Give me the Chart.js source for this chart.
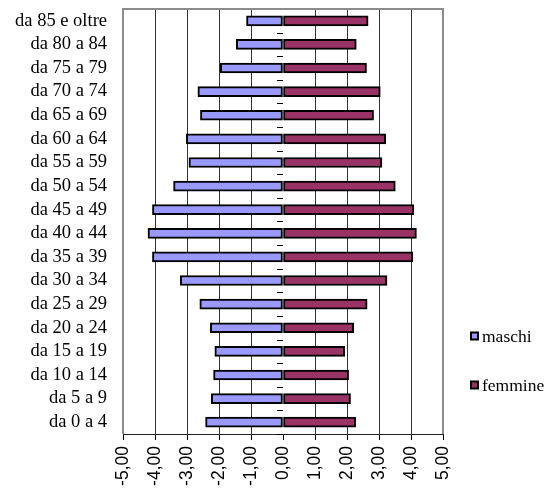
<!DOCTYPE html>
<html>
<head>
<meta charset="utf-8">
<script src="https://cdn.jsdelivr.net/npm/chart.js@4.4.0/dist/chart.umd.min.js"></script>
<style>
  html, body { margin: 0; padding: 0; background: #fff; }
  canvas { display: block; }
</style>
</head>
<body>
<canvas id="pyramid" width="554" height="493"></canvas>
<script>
// Age classes, youngest first (drawn bottom to top)
const ageGroups = [
  'da 0 a 4', 'da 5 a 9', 'da 10 a 14', 'da 15 a 19', 'da 20 a 24',
  'da 25 a 29', 'da 30 a 34', 'da 35 a 39', 'da 40 a 44', 'da 45 a 49',
  'da 50 a 54', 'da 55 a 59', 'da 60 a 64', 'da 65 a 69', 'da 70 a 74',
  'da 75 a 79', 'da 80 a 84', 'da 85 e oltre'
];

// Share of population (%), males drawn to the left as negative values
const maschi = [
  -2.42, -2.24, -2.17, -2.13, -2.27,
  -2.60, -3.21, -4.08, -4.22, -4.08,
  -3.42, -2.94, -3.02, -2.58, -2.66,
  -1.96, -1.46, -1.14
];
const femmine = [
  2.27, 2.11, 2.05, 1.93, 2.21,
  2.63, 3.25, 4.06, 4.17, 4.09,
  3.51, 3.09, 3.21, 2.83, 3.04,
  2.61, 2.29, 2.66
];

// Value axis ticks
const xTickValues = [-5, -4, -3, -2, -1, 0, 1, 2, 3, 4, 5];
const formatTick = v => Number(v).toFixed(2).replace('.', ',');

const SERIF = "'Liberation Serif', 'Times New Roman', serif";
const SANS = "'Liberation Sans', Arial, sans-serif";

// Gray frame on the left, top and right of the plot area
const plotFrame = {
  id: 'plotFrame',
  afterDraw(chart) {
    const ctx = chart.ctx;
    const a = chart.chartArea;
    const l = Math.round(a.left), t = Math.round(a.top), r = Math.round(a.right), b = Math.round(a.bottom);
    ctx.save();
    ctx.fillStyle = '#8c8c8c';
    ctx.fillRect(l - 1, t - 1, 2, b - t + 1);   // left side
    ctx.fillRect(l - 1, t - 1, r - l + 2, 2);   // top side
    ctx.fillRect(r - 1, t - 1, 2, b - t + 1);   // right side
    ctx.restore();
  }
};

// Short category tick marks along the zero line, between the age classes
const zeroTicks = {
  id: 'zeroTicks',
  afterDatasetsDraw(chart) {
    const ctx = chart.ctx;
    const xs = chart.scales.x, ys = chart.scales.y;
    const x0 = Math.round(xs.getPixelForValue(0));
    const n = ys.getLabels().length;
    const p0 = ys.getPixelForValue(0), p1 = ys.getPixelForValue(1);
    const step = p1 - p0;
    ctx.save();
    ctx.strokeStyle = '#000';
    ctx.lineWidth = 1;
    ctx.beginPath();
    for (let k = 0; k <= n; k++) {
      const y = Math.round(p0 - step / 2 + k * step) + 0.5;
      ctx.moveTo(x0 - 6, y);
      ctx.lineTo(x0, y);
    }
    ctx.stroke();
    ctx.restore();
  }
};

// Legend to the right of the plot, built from the datasets
const sideLegend = {
  id: 'sideLegend',
  afterDraw(chart, args, opts) {
    const ctx = chart.ctx;
    const a = chart.chartArea;
    ctx.save();
    ctx.font = opts.font;
    ctx.textBaseline = 'middle';
    ctx.textAlign = 'left';
    chart.data.datasets.forEach((ds, i) => {
      const cy = opts.top + i * opts.gap;
      const bx = a.right + opts.offset;
      const s = opts.box;
      ctx.fillStyle = '#000';
      ctx.fillRect(bx, cy - s / 2, s, s);
      ctx.fillStyle = ds.backgroundColor;
      ctx.fillRect(bx + 2, cy - s / 2 + 2, s - 4, s - 4);
      ctx.fillStyle = '#000';
      ctx.fillText(ds.label, bx + s + 3, cy + 1);
    });
    ctx.restore();
  }
};

new Chart(document.getElementById('pyramid'), {
  type: 'bar',
  data: {
    labels: ageGroups,
    datasets: [
      {
        label: 'maschi',
        data: maschi,
        backgroundColor: '#9999FF',
        borderColor: '#000',
        borderWidth: 2,
        borderSkipped: false,
        barThickness: 10,
        stack: 'pop'
      },
      {
        label: 'femmine',
        data: femmine,
        backgroundColor: '#993366',
        borderColor: '#000',
        borderWidth: 2,
        borderSkipped: false,
        barThickness: 10,
        stack: 'pop'
      }
    ]
  },
  options: {
    indexAxis: 'y',
    responsive: false,
    animation: false,
    devicePixelRatio: 1,
    layout: { padding: { top: 9, right: 111, bottom: 0, left: 0 } },
    plugins: {
      legend: { display: false },
      tooltip: { enabled: false },
      sideLegend: { font: '17.5px ' + SERIF, top: 336, gap: 49, offset: 27, box: 9 }
    },
    scales: {
      x: {
        type: 'linear',
        stacked: true,
        min: -5,
        max: 5,
        afterBuildTicks(scale) {
          scale.ticks = xTickValues.map(v => ({ value: v }));
        },
        afterFit(scale) {
          scale.height = 59;
          scale.paddingLeft = 0;
          scale.paddingRight = 0;
        },
        ticks: {
          callback: v => formatTick(v),
          minRotation: 90,
          maxRotation: 90,
          autoSkip: false,
          padding: 6,
          color: '#000',
          font: { family: SANS, size: 17.5 }
        },
        grid: {
          color: ctx => (ctx.tick && ctx.tick.value === 0) ? 'rgba(0,0,0,0)' : '#333',
          lineWidth: 1,
          tickLength: 6,
          tickColor: '#000',
          drawTicks: true
        },
        border: { display: true, color: '#222', width: 1 }
      },
      y: {
        type: 'category',
        stacked: true,
        reverse: true,
        afterFit(scale) {
          scale.width = 123;
          scale.paddingTop = 0;
          scale.paddingBottom = 0;
        },
        ticks: {
          color: '#000',
          padding: 16,
          autoSkip: false,
          font: { family: SERIF, size: 18.5 }
        },
        grid: { display: false, drawTicks: false },
        border: { display: false }
      }
    }
  },
  plugins: [plotFrame, zeroTicks, sideLegend]
});
</script>
</body>
</html>
